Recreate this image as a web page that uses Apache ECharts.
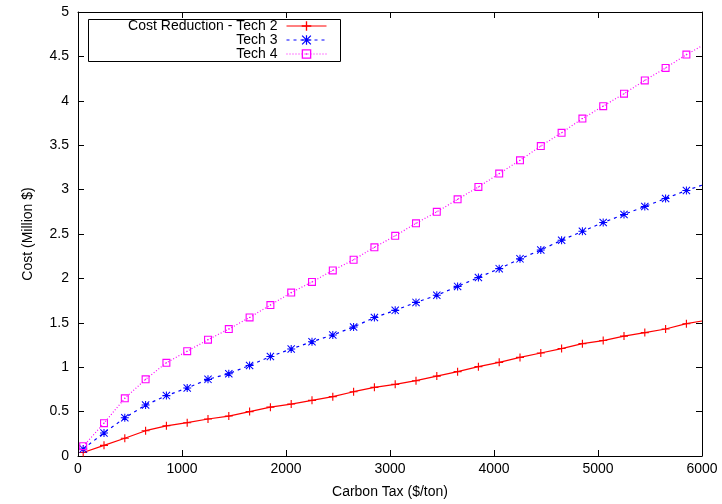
<!DOCTYPE html>
<html>
<head>
<meta charset="utf-8">
<script src="https://cdn.jsdelivr.net/npm/echarts@6/dist/echarts.min.js"></script>
<style>
  html, body { margin: 0; padding: 0; background: #fff; }
  #chart { width: 722px; height: 504px; }
</style>
</head>
<body>
<div id="chart"></div>
<script>
// Carbon tax levels ($/ton); the final entry is the curve end at the axis limit (no marker)
const carbonTax = [50, 250, 450, 650, 850, 1050, 1250, 1450, 1650, 1850,
  2050, 2250, 2450, 2650, 2850, 3050, 3250, 3450, 3650, 3850,
  4050, 4250, 4450, 4650, 4850, 5050, 5250, 5450, 5650, 5850, 6000];

// Cost (Million $)
const tech2 = [0.04, 0.12, 0.20, 0.285, 0.34, 0.375, 0.417, 0.45, 0.50, 0.55,
  0.585, 0.627, 0.668, 0.724, 0.773, 0.807, 0.848, 0.90, 0.95, 1.006,
  1.055, 1.11, 1.16, 1.21, 1.265, 1.30, 1.35, 1.39, 1.43, 1.49, 1.52];
const tech3 = [0.08, 0.26, 0.43, 0.574, 0.68, 0.766, 0.863, 0.927, 1.02, 1.12,
  1.205, 1.287, 1.363, 1.453, 1.56, 1.64, 1.73, 1.81, 1.91, 2.01,
  2.11, 2.22, 2.32, 2.43, 2.53, 2.63, 2.72, 2.81, 2.90, 2.99, 3.05];
const tech4 = [0.11, 0.37, 0.65, 0.863, 1.05, 1.18, 1.31, 1.43, 1.56, 1.70,
  1.84, 1.96, 2.09, 2.21, 2.35, 2.48, 2.62, 2.75, 2.89, 3.03,
  3.18, 3.33, 3.49, 3.64, 3.80, 3.94, 4.08, 4.23, 4.37, 4.52, 4.62];

const seriesNames = ['Cost Reduction - Tech 2', 'Tech 3', 'Tech 4'];
const xTicks = [0, 1000, 2000, 3000, 4000, 5000, 6000];

// gnuplot-like point glyphs
const plusPath = 'path://M4.3,0H5.7V4.3H10V5.7H5.7V10H4.3V5.7H0V4.3H4.3Z';
const starPath = 'path://M4.35,0H5.65V4.35H10V5.65H5.65V10H4.35V5.65H0V4.35H4.35Z' +
  'M0,0.9L0.9,0L10,9.1L9.1,10Z' +
  'M9.1,0L10,0.9L0.9,10L0,9.1Z';
const boxPath = 'path://M0,0H10V10H0Z M1.4,1.4V8.6H8.6V1.4Z M4.3,4.3H5.7V5.7H4.3Z';

function pairs(ys) {
  return carbonTax.map((x, i) => {
    const item = { value: [x, ys[i]] };
    if (i === carbonTax.length - 1) item.symbol = 'none';
    return item;
  });
}

const FONT = 'Liberation Sans, Arial, sans-serif';
const FS = 14;
const chart = echarts.init(document.getElementById('chart'), null, { renderer: 'canvas' });

const axisLineStyle = { show: true, onZero: false, lineStyle: { color: '#000', width: 1 } };
const tickStyle = { show: true, inside: true, length: 6, lineStyle: { color: '#000', width: 1 } };

function legendAt(top, name) {
  return {
    data: [name],
    orient: 'vertical',
    align: 'right',
    right: 395,
    top: top,
    padding: 0,
    itemWidth: 40,
    itemHeight: 12,
    itemGap: 0,
    selectedMode: false,
    lineStyle: { width: 1 },
    textStyle: { fontFamily: FONT, fontSize: FS, color: '#000', padding: [0, 4, 0, 0] }
  };
}

chart.setOption({
  animation: false,
  backgroundColor: '#fff',
  grid: { left: 78, right: 20, top: 12, bottom: 48, containLabel: false },
  legend: [legendAt(19, seriesNames[0]), legendAt(33, seriesNames[1]), legendAt(47, seriesNames[2])],
  graphic: [{
    type: 'rect',
    left: 86, top: 17,
    shape: { width: 252, height: 42 },
    style: { fill: 'none', stroke: '#000', lineWidth: 1 },
    z: 100
  }],
  xAxis: [{
    type: 'value', min: xTicks[0], max: xTicks[xTicks.length - 1], interval: 1000,
    position: 'bottom',
    name: 'Carbon Tax ($/ton)', nameLocation: 'middle', nameGap: 29,
    nameTextStyle: { fontFamily: FONT, fontSize: FS, color: '#000' },
    axisLine: axisLineStyle, axisTick: tickStyle,
    axisLabel: { fontFamily: FONT, fontSize: FS, color: '#000', margin: 6, formatter: v => String(v) },
    splitLine: { show: false }
  }, {
    type: 'value', min: xTicks[0], max: xTicks[xTicks.length - 1], interval: 1000,
    position: 'top',
    axisLine: axisLineStyle, axisTick: tickStyle,
    axisLabel: { show: false }, splitLine: { show: false }
  }],
  yAxis: [{
    type: 'value', min: 0, max: 5, interval: 0.5,
    position: 'left',
    name: 'Cost (Million $)', nameLocation: 'middle', nameGap: 43,
    nameTextStyle: { fontFamily: FONT, fontSize: FS, color: '#000' },
    axisLine: axisLineStyle, axisTick: tickStyle,
    axisLabel: { fontFamily: FONT, fontSize: FS, color: '#000', margin: 9 },
    splitLine: { show: false }
  }, {
    type: 'value', min: 0, max: 5, interval: 0.5,
    position: 'right',
    axisLine: axisLineStyle, axisTick: tickStyle,
    axisLabel: { show: false }, splitLine: { show: false }
  }],
  series: [{
    name: seriesNames[0], type: 'line', data: pairs(tech2),
    symbol: plusPath, symbolSize: 8, showAllSymbol: true,
    lineStyle: { color: '#ff0000', width: 1.2, type: 'solid' },
    itemStyle: { color: '#ff0000' }
  }, {
    name: seriesNames[1], type: 'line', data: pairs(tech3),
    symbol: starPath, symbolSize: 8, showAllSymbol: true,
    lineStyle: { color: '#0000ff', width: 1.2, type: [3, 4] },
    itemStyle: { color: '#0000ff' }
  }, {
    name: seriesNames[2], type: 'line', data: pairs(tech4),
    symbol: boxPath, symbolSize: 8, showAllSymbol: true,
    lineStyle: { color: '#ff00ff', width: 1.2, type: [1, 2] },
    itemStyle: { color: '#ff00ff' }
  }]
});
</script>
</body>
</html>
